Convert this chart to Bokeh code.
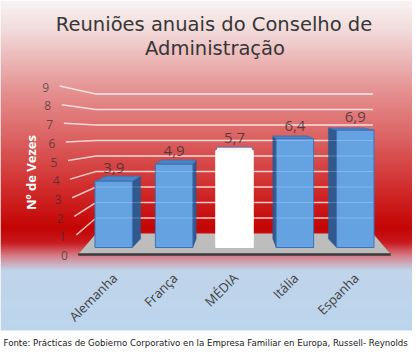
import math
from bokeh.plotting import figure
from bokeh.models import Range1d, ColumnDataSource
from bokeh.core.properties import value
from bokeh.embed import file_html
from bokeh.resources import INLINE

# ---------------- data ----------------
categories = ["Alemanha", "França", "MÉDIA", "Itália", "Espanha"]
values = [3.9, 4.9, 5.7, 6.4, 6.9]
value_labels = ["3,9", "4,9", "5,7", "6,4", "6,9"]
highlight = ["no", "no", "yes", "no", "no"]
y_ticks = [0, 1, 2, 3, 4, 5, 6, 7, 8, 9]
title_lines = ["Reuniões anuais do Conselho de", "Administração"]
y_title = "Nº de Vezes"
source_note = ("Fonte: Prácticas de Gobierno Corporativo en la Empresa Familiar "
               "en Europa, Russell- Reynolds")

# ---------------- layout (pixel geometry of the 3D scene) ----------------
W, H = 412, 352
OFF = 0
MID_REF, STEP = 234.0, 60.4  # screen x of middle category, px per category
BASE_REF, UNIT = 247.0, 17.0 # screen y of value 0 on bar front plane, px per unit
MID_IDX = (len(categories) - 1) / 2


def dx(rx):
    return MID_IDX + (rx - MID_REF) / STEP


def dy(ry):
    return (BASE_REF - ry) / UNIT


VPX, VPY = dx(234), dy(88)
S_FLOOR = (1.05, 1.044)
S_BACK = (0.92, 0.945)
S_WALL = (0.93, 0.912)
PAD = 0.465
BAR_W = 0.62


def proj(i, v, s):
    return VPX + s[0] * (i - VPX), VPY + s[1] * (v - VPY)


p = figure(width=W, height=H, x_range=Range1d(dx(OFF), dx(OFF + W)),
           y_range=Range1d(dy(OFF + H), dy(OFF)), output_backend="svg",
           toolbar_location=None, min_border=0)
p.axis.visible = False
p.grid.visible = False
p.outline_line_color = None
p.background_fill_color = "white"
p.border_fill_color = "white"

# ---------------- background gradient ----------------
stops = [(0, (248, 244, 244)), (30, (242, 218, 218)), (90, (229, 145, 145)),
         (140, (219, 95, 95)), (190, (208, 42, 42)), (228, (196, 4, 4)),
         (242, (200, 25, 30)), (256, (214, 130, 140)), (270, (192, 212, 234)),
         (330, (188, 213, 237))]


def grad(ry):
    for (y0, c0), (y1, c1) in zip(stops[:-1], stops[1:]):
        if y0 <= ry <= y1:
            t = (ry - y0) / (y1 - y0)
            return "#%02x%02x%02x" % tuple(int(round(a + t * (b - a))) for a, b in zip(c0, c1))
    return "#%02x%02x%02x" % stops[-1][1]


gy = list(range(0, 330, 2))
p.quad(left=dx(0), right=dx(412), top=[dy(y) for y in gy],
       bottom=[dy(min(y + 2.6, 330)) for y in gy],
       fill_color=[grad(y + 1) for y in gy], line_color=None)

# ---------------- floor ----------------
iL, iR = -PAD, len(categories) - 1 + PAD
fl = [proj(iL, 0, S_FLOOR), proj(iR, 0, S_FLOOR), proj(iR, 0, S_WALL), proj(iL, 0, S_WALL)]
p.patch([a for a, b in fl], [b for a, b in fl], fill_color="#bdbdbd", line_color=None)
p.line([fl[0][0], fl[1][0]], [fl[0][1], fl[1][1]], line_color="#3a3a3a", line_width=2.5)

# ---------------- walls / gridlines ----------------
gx, gys = [], []
hx, hy = [], []
for v in y_ticks[1:]:
    lf = (dx(78 - 2.1 * v), dy(253 - 18.6 * v))
    bl = proj(iL, v, S_WALL)
    br = proj(iR, v, S_WALL)
    gx.append([lf[0], bl[0], br[0]])
    gys.append([lf[1], bl[1], br[1]])
    hx.append([bl[0], br[0]])
    hy.append([bl[1], br[1]])
p.multi_line(gx, gys, line_color="white", line_alpha=0.72, line_width=1.5)

# ---------------- bars ----------------
side_x, side_y, side_c = [], [], []
top_x, top_y, top_c = [], [], []
for i, (v, h) in enumerate(zip(values, highlight)):
    l, r = i - BAR_W / 2, i + BAR_W / 2
    white = h == "yes"
    if abs(i - VPX) > 1e-6:
        e = r if i < VPX else l
        pts = [(e, 0), (e, v), proj(e, v, S_BACK), proj(e, 0, S_BACK)]
        side_x.append([a for a, b in pts]); side_y.append([b for a, b in pts])
        side_c.append("#ececec" if white else "#30598f")
    pts = [(l, v), (r, v), proj(r, v, S_BACK), proj(l, v, S_BACK)]
    top_x.append([a for a, b in pts]); top_y.append([b for a, b in pts])
    top_c.append("#f4f4f4" if white else "#4d82c4")
p.patches(side_x, side_y, fill_color=side_c, line_color=side_c, line_width=0.5)
p.patches(top_x, top_y, fill_color=top_c, line_color="#3d6fb0", line_width=0.8)
src = ColumnDataSource(dict(
    x=list(range(len(categories))), top=values, lab=value_labels,
    fill=["white" if h == "yes" else "#64a2e2" for h in highlight],
    edge=["white" if h == "yes" else "#3f72b5" for h in highlight]))
p.vbar(x="x", top="top", bottom=0, width=BAR_W, source=src,
       fill_color="fill", line_color="edge", line_width=1)
# gridlines faintly visible through the bars
p.multi_line(hx, hy, line_color="white", line_alpha=0.22, line_width=1.2)

# ---------------- texts ----------------
p.text(x="x", y="top", text="lab", source=src, y_offset=-13,
       text_align="center", text_baseline="middle",
       text_font=value("Open Sans"), text_font_size="15px",
       text_color="#303030", text_alpha=0.78)

p.text(x=[dx(64 - 2.1 * v) for v in y_ticks], y=[dy(255 - 18.7 * v) for v in y_ticks],
       text=[str(v) for v in y_ticks], text_align="center", text_baseline="middle",
       text_font=value("Open Sans"), text_font_size="12px",
       text_color="#303030", text_alpha=0.7)

p.text(x=[dx(30)], y=[dy(172)], text=[y_title], angle=math.pi / 2,
       text_align="center", text_baseline="middle",
       text_font=value("Open Sans"), text_font_style="bold",
       text_font_size="13px", text_color="white")

p.text(x=[dx(213.5), dx(214.5)], y=[dy(24), dy(48)], text=title_lines,
       text_align="center", text_baseline="middle",
       text_font=value("DejaVu Sans"), text_font_size="19.5px", text_color="#363636")

p.text(x=list(range(len(categories))), y=[dy(275)] * len(categories), text=categories,
       x_offset=1, angle=math.pi / 4, text_align="right", text_baseline="middle",
       text_font=value("Open Sans"), text_font_size="13px", text_color="#404040")

p.text(x=[dx(3)], y=[dy(342)], text=[source_note], text_align="left",
       text_baseline="middle", text_font=value("DejaVu Sans"),
       text_font_size="8.6px", text_color="#202020")

open("out.html", "w").write(file_html(p, INLINE))
